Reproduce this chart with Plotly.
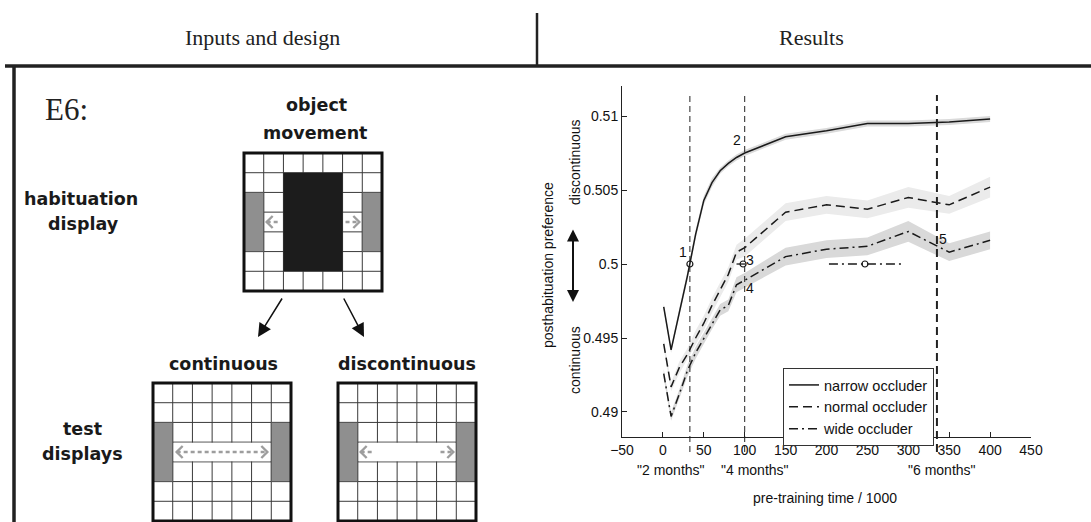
import plotly.graph_objects as go

# ---------------- data ----------------
train_time = [1, 10, 20, 30, 40, 50, 60, 70, 80, 90, 100, 150, 200, 250, 300, 350, 400]
narrow_pref = [0.4971, 0.4942, 0.4967, 0.4992, 0.5020, 0.5043, 0.5055, 0.5063, 0.5068,
               0.5072, 0.5075, 0.5086, 0.5090, 0.5095, 0.5095, 0.5096, 0.5098]
normal_pref = [0.4946, 0.4917, 0.4930, 0.4939, 0.4950, 0.4960, 0.4972, 0.4983, 0.4993,
               0.5008, 0.5011, 0.5035, 0.5040, 0.5037, 0.5045, 0.5040, 0.5052]
wide_pref = [0.4926, 0.4897, 0.4912, 0.4928, 0.4940, 0.4950, 0.4960, 0.4969, 0.4972,
             0.4986, 0.4989, 0.5005, 0.5010, 0.5012, 0.5022, 0.5008, 0.5016]
narrow_sem = [0.0002, 0.0002, 0.0003, 0.0003, 0.0003, 0.0003, 0.0003, 0.0002, 0.0002,
              0.0002, 0.0002, 0.0002, 0.0002, 0.0002, 0.0002, 0.0002, 0.0002]
normal_sem = [0.0003, 0.0003, 0.0004, 0.0004, 0.0005, 0.0005, 0.0005, 0.0005, 0.0005,
              0.0005, 0.0006, 0.0006, 0.0006, 0.0006, 0.0007, 0.0006, 0.0007]
wide_sem = [0.0003, 0.0003, 0.0003, 0.0004, 0.0004, 0.0004, 0.0004, 0.0004, 0.0004,
            0.0005, 0.0005, 0.0006, 0.0006, 0.0006, 0.0007, 0.0006, 0.0006]
series_names = ["narrow occluder", "normal occluder", "wide occluder"]

crossing_time = [33, 98, 247]
crossing_lo = [33, 90, 203]
crossing_hi = [33, 104, 291]
chance_level = 0.5

month_times = [33, 100, 335]
month_labels = ['"2 months"', '"4 months"', '"6 months"']

point_labels = ["1", "2", "3", "4", "5"]
point_label_time = [25, 90, 107, 107, 343]
point_label_pref = [0.5008, 0.5084, 0.5003, 0.4984, 0.5017]

x_ticks = [-50, 0, 50, 100, 150, 200, 250, 300, 350, 400, 450]
y_ticks = [0.49, 0.495, 0.5, 0.505, 0.51]
y_tick_labels = ["0.49", "0.495", "0.5", "0.505", "0.51"]

# ---------------- styles ----------------
W, H = 1091, 522
INK = "#1a1a1a"
dashes = ["solid", "9px,5px", "9px,4px,2px,4px"]
band_colors = ["#dadada", "#ebebeb", "#d9d9d9"]
SANS = "Liberation Sans, Arial, sans-serif"
GEO = "DejaVu Sans, sans-serif"
SERIF = "Liberation Serif, Times New Roman, serif"

fig = go.Figure()

series = [narrow_pref, normal_pref, wide_pref]
sems = [narrow_sem, normal_sem, wide_sem]

# bands (draw normal first, then wide, then narrow)
for i in [1, 2, 0]:
    up = [v + e for v, e in zip(series[i], sems[i])]
    lo = [v - e for v, e in zip(series[i], sems[i])]
    fig.add_trace(go.Scatter(
        x=train_time + train_time[::-1], y=up + lo[::-1],
        fill="toself", fillcolor=band_colors[i], line=dict(width=0),
        mode="lines", hoverinfo="skip", showlegend=False))

for i in range(3):
    fig.add_trace(go.Scatter(
        x=train_time, y=series[i], mode="lines", name=series_names[i],
        line=dict(color=INK, width=1.5, dash=dashes[i])))

# crossing estimates
for i in range(3):
    if crossing_hi[i] > crossing_lo[i]:
        fig.add_trace(go.Scatter(
            x=[crossing_lo[i], crossing_hi[i]], y=[chance_level, chance_level],
            mode="lines", line=dict(color=INK, width=1.3, dash=dashes[i]),
            showlegend=False, hoverinfo="skip"))
fig.add_trace(go.Scatter(
    x=crossing_time, y=[chance_level] * len(crossing_time), mode="markers",
    marker=dict(symbol="circle-open", size=6, color=INK, line=dict(width=1.2)),
    showlegend=False, hoverinfo="skip"))

# invisible trace to create the overlay (pixel) axes
fig.add_trace(go.Scatter(x=[0], y=[0], xaxis="x2", yaxis="y2", mode="markers",
                         marker=dict(opacity=0), showlegend=False, hoverinfo="skip"))

shapes = []
ann = []

# month marker lines
for t, w in zip(month_times, [1, 1, 2]):
    shapes.append(dict(type="line", xref="x", yref="paper", x0=t, x1=t,
                       y0=1 - 452 / H, y1=1 - 95 / H, layer="above",
                       line=dict(color="#222", width=w, dash="6px,4px" if w == 1 else "8px,5px")))
month_label_offset = [-19, 10, 5]
for t, lab, off in zip(month_times, month_labels, month_label_offset):
    ann.append(dict(x=t, y=1 - 470 / H, xref="x", yref="paper", text=lab, showarrow=False,
                    xshift=off, xanchor="center", yanchor="middle",
                    font=dict(family=SANS, size=14, color="#111")))

for lab, tx, ty in zip(point_labels, point_label_time, point_label_pref):
    ann.append(dict(x=tx, y=ty, xref="x", yref="y", text=lab, showarrow=False,
                    xanchor="center", yanchor="middle",
                    font=dict(family=SANS, size=14, color="#111")))


# ---------- pixel-space helpers ----------
def pline(x0, y0, x1, y1, color="#333", width=1, dash=None):
    d = dict(color=color, width=width)
    if dash:
        d["dash"] = dash
    shapes.append(dict(type="line", xref="x2", yref="y2", x0=x0, y0=y0, x1=x1, y1=y1, line=d))


def prect(x0, y0, x1, y1, fill, color=None, width=0):
    shapes.append(dict(type="rect", xref="x2", yref="y2", x0=x0, y0=y0, x1=x1, y1=y1,
                       fillcolor=fill, line=dict(color=color or fill, width=width)))


def ppath(p, color, width):
    shapes.append(dict(type="path", xref="x2", yref="y2", path=p,
                       line=dict(color=color, width=width)))


def text(x, y, s, size, family=GEO, color="#1a1a1a", angle=0, bold=False):
    ann.append(dict(x=x, y=y, xref="x2", yref="y2", text=f"<b>{s}</b>" if bold else s,
                    showarrow=False, textangle=angle, xanchor="center", yanchor="middle",
                    font=dict(family=family, size=size, color=color)))


GRAY_ARROW = "#9d9d9d"


def garrow(xa, xb, y, heads):
    pline(xa, y, xb, y, GRAY_ARROW, 2.4, "4px,3px")
    if "l" in heads:
        ppath(f"M {xa + 6},{y - 6} L {xa},{y} L {xa + 6},{y + 6}", GRAY_ARROW, 2.4)
    if "r" in heads:
        ppath(f"M {xb - 6},{y - 6} L {xb},{y} L {xb - 6},{y + 6}", GRAY_ARROW, 2.4)


def grid(x0, y0, kind):
    S = 138.0
    c = S / 7
    prect(x0, y0, x0 + S, y0 + S, "white")
    for k in range(1, 7):
        pline(x0 + k * c, y0, x0 + k * c, y0 + S, "#3a3a3a", 1)
        pline(x0, y0 + k * c, x0 + S, y0 + k * c, "#3a3a3a", 1)
    ym = y0 + 3.5 * c
    if kind == "hab":
        prect(x0 + 2 * c, y0 + c, x0 + 5 * c, y0 + 6 * c, "#1c1c1c")
        garrow(x0 + 1.15 * c, x0 + 1.85 * c, ym, "l")
        garrow(x0 + 5.15 * c, x0 + 5.85 * c, ym, "r")
    else:
        prect(x0 + c + 1, y0 + 3 * c + 0.6, x0 + 6 * c - 1, y0 + 4 * c - 0.6, "white")
        if kind == "cont":
            garrow(x0 + 1.2 * c, x0 + 5.8 * c, ym, "lr")
        else:
            garrow(x0 + 1.15 * c, x0 + 1.8 * c, ym, "l")
            garrow(x0 + 5.2 * c, x0 + 5.85 * c, ym, "r")
    prect(x0, y0 + 2 * c, x0 + c, y0 + 5 * c, "#8f8f8f", "#555", 1)
    prect(x0 + 6 * c, y0 + 2 * c, x0 + 7 * c, y0 + 5 * c, "#8f8f8f", "#555", 1)
    shapes.append(dict(type="rect", xref="x2", yref="y2", x0=x0, y0=y0, x1=x0 + S, y1=y0 + S,
                       line=dict(color="#111", width=3)))


# frame / header
pline(5, 66, W, 66, "#222", 3.5)
pline(14, 66, 14, H, "#222", 3.5)
pline(537, 13, 537, 66, "#222", 2.5)
text(262, 37, "Inputs and design", 22, SERIF, "#222")
text(811, 37, "Results", 22, SERIF, "#222")

# left panel
text(66, 109, "E6:", 31, SERIF, "#222")
text(316, 105, "object", 17.5, bold=True)
text(315, 133, "movement", 17.5, bold=True)
text(81, 199, "habituation", 17.5, bold=True)
text(83, 224, "display", 17.5, bold=True)
text(223, 364, "continuous", 17.5, bold=True)
text(407, 364, "discontinuous", 17.5, bold=True)
text(82, 429, "test", 17.5, bold=True)
text(82, 454, "displays", 17.5, bold=True)

grid(244, 153, "hab")
grid(153, 383, "cont")
grid(338, 383, "disc")

for tail, tip in [((283, 297), (258, 337)), ((343, 297), (364, 337))]:
    ann.append(dict(x=tip[0], y=tip[1], ax=tail[0], ay=tail[1], xref="x2", yref="y2",
                    axref="x2", ayref="y2", showarrow=True, arrowhead=2, arrowsize=1.8,
                    arrowwidth=1.5, arrowcolor="#111", text=""))

# chart side texts
text(548, 265, "posthabituation preference", 14, SANS, "#111", angle=-90)
text(575, 162, "discontinuous", 14, SANS, "#111", angle=-90)
text(575, 360, "continuous", 14, SANS, "#111", angle=-90)
ann.append(dict(x=573, y=302, ax=573, ay=228, xref="x2", yref="y2", axref="x2", ayref="y2",
                showarrow=True, arrowhead=2, arrowside="end+start", arrowsize=1.2,
                arrowwidth=2, arrowcolor="#111", text=""))
text(825, 498, "pre-training time / 1000", 14, SANS, "#111")

fig.update_layout(
    width=W, height=H, margin=dict(l=0, r=0, t=0, b=0, pad=0, autoexpand=False),
    paper_bgcolor="white", plot_bgcolor="rgba(0,0,0,0)",
    shapes=shapes, annotations=ann,
    xaxis=dict(domain=[622 / W, 1031 / W], range=[-50, 450], tickvals=x_ticks,
               ticks="inside", ticklen=5, tickcolor="#222", showline=True, linecolor="#222",
               linewidth=1, showgrid=False, zeroline=False, mirror=False,
               tickfont=dict(family=SANS, size=14, color="#111"), anchor="y"),
    yaxis=dict(domain=[1 - 437 / H, 1 - 86 / H], range=[0.48831, 0.51203],
               tickvals=y_ticks, ticktext=y_tick_labels, ticks="inside", ticklen=5,
               tickcolor="#222", showline=True, linecolor="#222", linewidth=1,
               showgrid=False, zeroline=False, tickfont=dict(family=SANS, size=14, color="#111"),
               anchor="x"),
    xaxis2=dict(domain=[0, 1], range=[0, W], visible=False, anchor="y2", fixedrange=True),
    yaxis2=dict(domain=[0, 1], range=[H, 0], visible=False, anchor="x2", fixedrange=True),
    legend=dict(x=783 / W, y=1 - 368 / H, xanchor="left", yanchor="top",
                bordercolor="#333", borderwidth=1, bgcolor="white",
                font=dict(family=SANS, size=14.5, color="#111"), tracegroupgap=0),
    showlegend=True,
)

fig.write_html("out.html", config={"displayModeBar": False},
               post_script="document.body.style.margin='0';document.body.style.overflow='hidden';")
